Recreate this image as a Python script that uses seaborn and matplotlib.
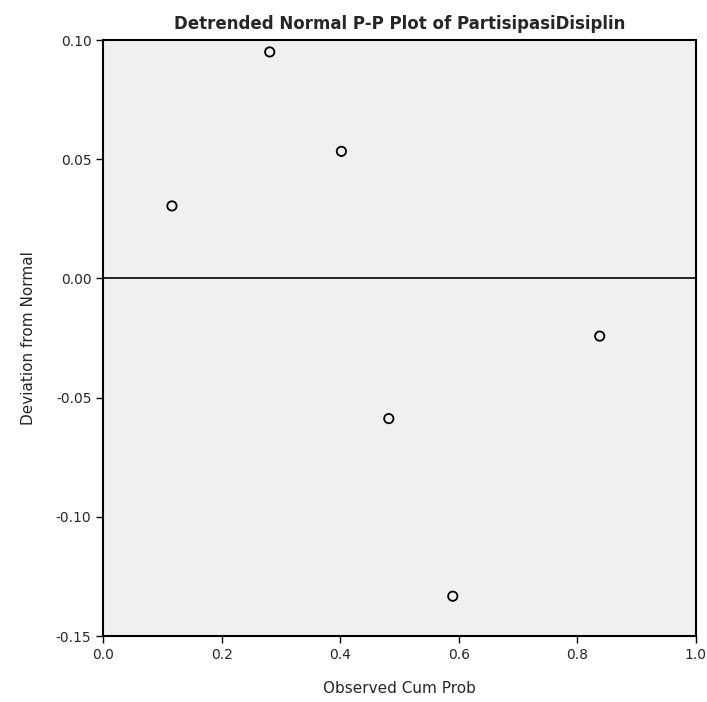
import matplotlib
matplotlib.use("Agg")
import matplotlib.pyplot as plt
import seaborn as sns
import pandas as pd

# observed cumulative probability vs deviation from normal
obs_cum_prob = [0.116, 0.281, 0.402, 0.482, 0.590, 0.838]
deviation = [0.0304, 0.0950, 0.0533, -0.0588, -0.1333, -0.0242]

x_ticks = [0.0, 0.2, 0.4, 0.6, 0.8, 1.0]
x_labels = ["0.0", "0.2", "0.4", "0.6", "0.8", "1.0"]
y_ticks = [-0.15, -0.10, -0.05, 0.00, 0.05, 0.10]
y_labels = ["-0.15", "-0.10", "-0.05", "0.00", "0.05", "0.10"]

df = pd.DataFrame({"Observed Cum Prob": obs_cum_prob,
                   "Deviation from Normal": deviation})

sns.set_theme(style="white")
plt.rcParams['font.family'] = ['DejaVu Sans']

fig = plt.figure(figsize=(7.07, 7.02), dpi=100)
ax = fig.add_axes([0.146, 0.094, 0.838, 0.849])
ax.set_facecolor("#f0f0f0")

ax.axhline(0, color="black", linewidth=1.2, zorder=1)
sns.scatterplot(data=df, x="Observed Cum Prob", y="Deviation from Normal",
                ax=ax, marker="o", s=45, facecolor="none",
                edgecolor="black", linewidth=1.3, zorder=3)

ax.set_xlim(0.0, 1.0)
ax.set_ylim(-0.1483, 0.10)
ax.set_xticks(x_ticks)
ax.set_xticklabels(x_labels, fontsize=10)
ax.set_yticks(y_ticks)
ax.set_yticklabels(y_labels, fontsize=10)
ax.tick_params(axis="both", direction="out", length=5, width=1, color="black",
               left=True, bottom=True)

for side in ax.spines.values():
    side.set_color("black")
    side.set_linewidth(1.5)

ax.set_xlabel("Observed Cum Prob", fontsize=11, labelpad=14)
ax.set_ylabel("Deviation from Normal", fontsize=11, labelpad=14)
ax.set_title("Detrended Normal P-P Plot of PartisipasiDisiplin",
             fontsize=12, fontweight="bold", pad=8)

fig.savefig("out.png", dpi=100)
